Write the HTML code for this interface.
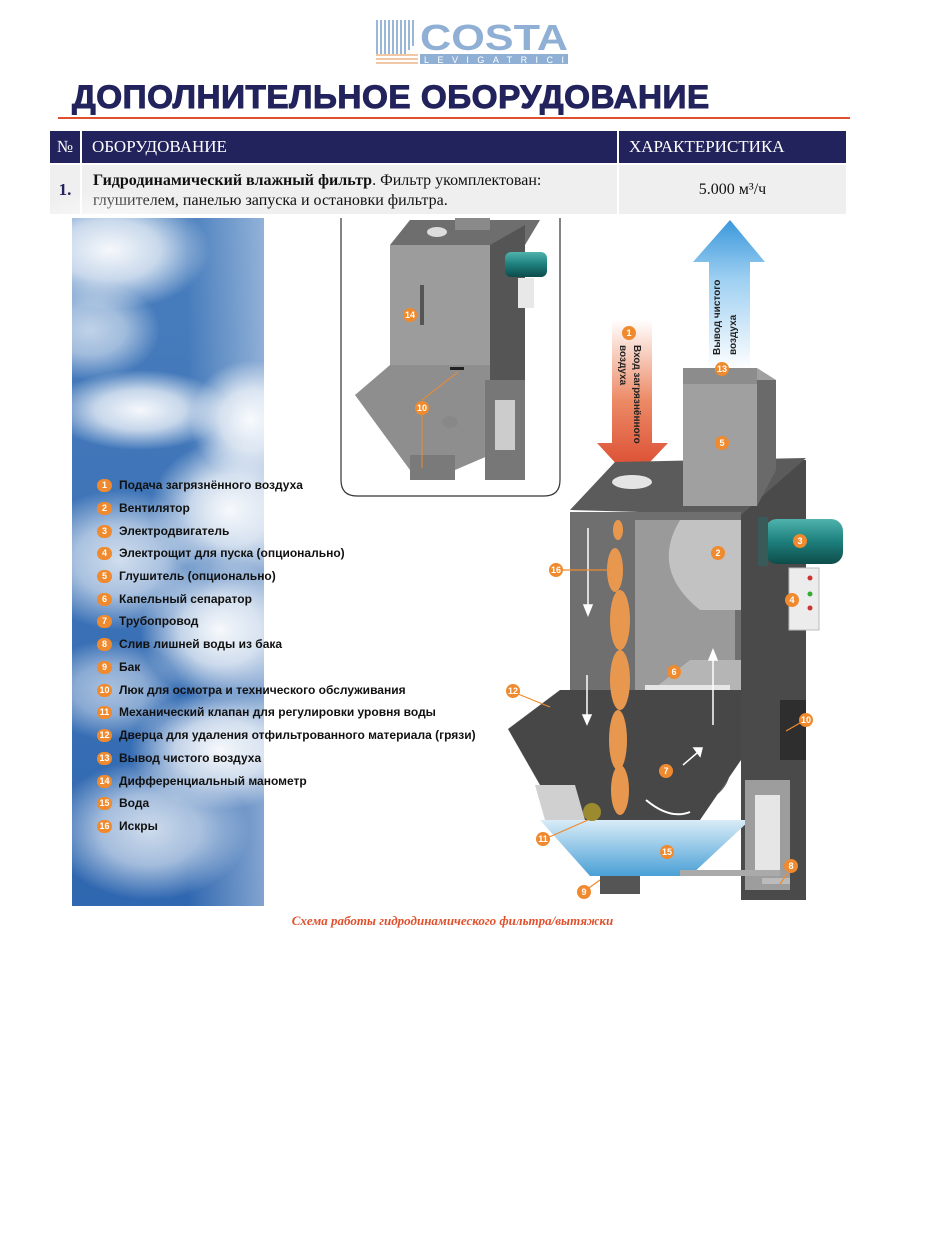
<!DOCTYPE html>
<html><head><meta charset="utf-8"><style>
body{margin:0;background:#fff;width:930px;height:1242px;position:relative;overflow:hidden;font-family:"Liberation Sans",sans-serif}
.a{position:absolute}
.leg{position:absolute;left:97px;font:bold 12px "Liberation Sans",sans-serif;color:#111;white-space:nowrap}
.leg span{display:inline-block;width:15px;height:13px;border-radius:7px;background:#ef8a2e;color:#fff;font-size:9px;text-align:center;line-height:13px;margin-right:7px;vertical-align:middle}
</style></head><body>
<!-- logo -->
<svg class="a" style="left:374px;top:18px" width="196" height="48">
 <g fill="#9ab7d8"><rect x="2" y="2" width="2" height="34"/><rect x="6" y="2" width="2" height="34"/><rect x="10" y="2" width="2" height="34"/><rect x="14" y="2" width="2" height="34"/><rect x="18" y="2" width="2" height="34"/><rect x="22" y="2" width="2" height="34"/><rect x="26" y="2" width="2" height="34"/><rect x="30" y="2" width="2" height="34"/><rect x="34" y="2" width="2" height="30"/><rect x="38" y="2" width="2" height="26"/></g>
 <g fill="#f2c7a5"><rect x="2" y="36" width="42" height="2"/><rect x="2" y="40" width="42" height="2"/><rect x="2" y="44" width="42" height="2"/></g>
 <text x="46" y="32" font-family="Liberation Sans" font-weight="bold" font-size="36" fill="#8fb0d4" textLength="148" lengthAdjust="spacingAndGlyphs">COSTA</text>
 <rect x="46" y="36" width="148" height="10" fill="#8fb0d4"/>
 <text x="50" y="45" font-family="Liberation Sans" font-size="9" fill="#fff" textLength="140" lengthAdjust="spacing">LEVIGATRICI</text>
</svg>
<div class="a" style="left:72px;top:79px;font:bold 32px 'Liberation Sans',sans-serif;color:#22235c;letter-spacing:0.5px;transform:scaleX(1.04);transform-origin:left;-webkit-text-stroke:1px #22235c">ДОПОЛНИТЕЛЬНОЕ ОБОРУДОВАНИЕ</div>
<div class="a" style="left:58px;top:117px;width:792px;height:2px;background:#e0502c"></div>
<!-- table -->
<div class="a" style="left:50px;top:131px;width:30px;height:32px;background:#22225c;color:#fff;font:17px 'Liberation Serif',serif;line-height:32px;text-align:center">№</div>
<div class="a" style="left:82px;top:131px;width:535px;height:32px;background:#22225c;color:#fff;font:17px 'Liberation Serif',serif;line-height:32px;padding-left:10px;box-sizing:border-box">ОБОРУДОВАНИЕ</div>
<div class="a" style="left:619px;top:131px;width:227px;height:32px;background:#22225c;color:#fff;font:17px 'Liberation Serif',serif;line-height:32px;padding-left:10px;box-sizing:border-box">ХАРАКТЕРИСТИКА</div>
<div class="a" style="left:50px;top:165px;width:30px;height:49px;background:#efefef;color:#22225c;font:bold 17px 'Liberation Serif',serif;line-height:49px;text-align:center">1.</div>
<div class="a" style="left:82px;top:165px;width:535px;height:49px;background:#efefef;font:16px 'Liberation Serif',serif;line-height:20px;padding:6px 0 0 11px;box-sizing:border-box;color:#111"><b>Гидродинамический влажный фильтр</b>. Фильтр укомплектован: глушителем, панелью запуска и остановки фильтра.</div>
<div class="a" style="left:619px;top:165px;width:227px;height:49px;background:#efefef;font:16px 'Liberation Serif',serif;line-height:49px;text-align:center;color:#111">5.000 м³/ч</div>

<svg class="a" style="left:0;top:0" width="930" height="1242">
 <defs>
  <linearGradient id="sky" x1="0" y1="0" x2="0" y2="1"><stop offset="0" stop-color="#4a7fbe"/><stop offset="1" stop-color="#2f67b0"/></linearGradient>
  <radialGradient id="cl"><stop offset="0" stop-color="#fff" stop-opacity="0.95"/><stop offset="0.5" stop-color="#fff" stop-opacity="0.7"/><stop offset="1" stop-color="#fff" stop-opacity="0"/></radialGradient>
  <linearGradient id="fade" x1="0" y1="0" x2="1" y2="0"><stop offset="0.6" stop-color="#fff" stop-opacity="0"/><stop offset="1" stop-color="#fff" stop-opacity="0.4"/></linearGradient>
  <linearGradient id="red" x1="0" y1="0" x2="0" y2="1"><stop offset="0" stop-color="#fff"/><stop offset="0.5" stop-color="#ec8a66"/><stop offset="1" stop-color="#d9432a"/></linearGradient>
  <linearGradient id="blue" x1="0" y1="1" x2="0" y2="0"><stop offset="0" stop-color="#fff"/><stop offset="0.6" stop-color="#9fd0f2"/><stop offset="1" stop-color="#3b98dc"/></linearGradient>
  <linearGradient id="water" x1="0" y1="0" x2="0" y2="1"><stop offset="0" stop-color="#d9ecf7"/><stop offset="1" stop-color="#4aa0d6"/></linearGradient>
  <linearGradient id="mot" x1="0" y1="0" x2="0" y2="1"><stop offset="0" stop-color="#4fb3ad"/><stop offset="0.5" stop-color="#1d7f7c"/><stop offset="1" stop-color="#0e4c4b"/></linearGradient>
 </defs>
 <!-- sky -->
 <rect x="72" y="218" width="192" height="688" fill="url(#sky)"/>
 <g>
  <ellipse cx="110" cy="250" rx="100" ry="60" fill="url(#cl)"/>
  <ellipse cx="90" cy="330" rx="70" ry="50" fill="url(#cl)" opacity="0.7"/>
  <ellipse cx="140" cy="410" rx="90" ry="40" fill="url(#cl)"/>
  <ellipse cx="250" cy="420" rx="60" ry="60" fill="url(#cl)"/>
  <ellipse cx="230" cy="510" rx="80" ry="70" fill="url(#cl)"/>
  <ellipse cx="120" cy="560" rx="90" ry="70" fill="url(#cl)" opacity="0.8"/>
  <ellipse cx="220" cy="630" rx="80" ry="70" fill="url(#cl)"/>
  <ellipse cx="110" cy="690" rx="70" ry="50" fill="url(#cl)" opacity="0.6"/>
  <ellipse cx="220" cy="750" rx="90" ry="60" fill="url(#cl)"/>
  <ellipse cx="150" cy="830" rx="100" ry="70" fill="url(#cl)" opacity="0.8"/>
 </g>
 <rect x="72" y="218" width="192" height="688" fill="url(#fade)"/>

 <!-- inset -->
 <path d="M341 218 V480 Q341 496 357 496 H544 Q560 496 560 480 V218" fill="#fff" stroke="#333" stroke-width="1.2"/>
 <polygon points="390,245 410,220 540,220 525,245" fill="#6e6e6e"/>
 <ellipse cx="437" cy="232" rx="10" ry="5" fill="#ddd"/>
 <rect x="455" y="218" width="35" height="12" fill="#8a8a8a"/>
 <rect x="390" y="245" width="100" height="120" fill="#9c9c9c"/>
 <polygon points="490,245 525,225 525,420 490,445" fill="#555"/>
 <rect x="505" y="252" width="42" height="25" rx="6" fill="url(#mot)"/>
 <rect x="518" y="278" width="16" height="30" fill="#e8e8e8"/>
 <polygon points="355,395 390,365 490,365 490,455 455,470 410,470" fill="#8e8e8e"/>
 <rect x="410" y="455" width="45" height="25" fill="#7a7a7a"/>
 <rect x="485" y="380" width="40" height="100" fill="#777"/>
 <rect x="495" y="400" width="20" height="50" fill="#ccc"/>
 <rect x="420" y="285" width="4" height="40" fill="#555"/>
 <ellipse cx="450" cy="422" rx="8" ry="6" fill="#888"/>
 <rect x="450" y="367" width="14" height="3" fill="#222"/>
 <line x1="418" y1="318" x2="408" y2="313" stroke="#ef8a2e"/><line x1="422" y1="400" x2="458" y2="372" stroke="#ef8a2e"/><line x1="422" y1="408" x2="422" y2="468" stroke="#ef8a2e"/>

 <!-- arrows -->
 <polygon points="730,220 765,262 750,262 750,370 709,370 709,262 693,262" fill="url(#blue)"/>
 <polygon points="612,320 652,320 652,443 668,443 632,481 597,443 612,443" fill="url(#red)"/>

 <!-- main machine -->
 <rect x="741" y="460" width="65" height="440" fill="#4a4a4a"/>
 <polygon points="570,510 615,462 806,458 741,515" fill="#5b5b5b"/>
 <ellipse cx="632" cy="482" rx="20" ry="7" fill="#e4e4e4"/>
 <polygon points="683,368 757,368 776,380 776,445 757,506 683,506" fill="#a0a0a0"/>
 <polygon points="757,380 776,380 776,470 757,506" fill="#6a6a6a"/>
 <rect x="683" y="368" width="74" height="16" fill="#8c8c8c"/>
 <rect x="570" y="512" width="171" height="215" fill="#6f6f6f"/>
 <rect x="635" y="520" width="100" height="200" fill="#9a9a9a"/>
 <path d="M680 520 Q650 570 700 610 H741 V520 Z" fill="#c2c2c2"/>
 <polygon points="640,700 690,660 741,660 741,720" fill="#b5b5b5"/>
 <rect x="645" y="685" width="85" height="18" fill="#e6e6e6"/>
 <ellipse cx="685" cy="770" rx="45" ry="35" fill="#5d5d5d"/>
 <rect x="780" y="700" width="26" height="60" fill="#2e2e2e"/>
 <polygon points="508,729 560,690 741,690 741,760 700,820 560,820" fill="#474747"/>
 <polygon points="540,820 750,820 690,876 590,876" fill="url(#water)"/>
 <polygon points="535,785 575,785 585,820 545,820" fill="#d0d0d0"/>
 <circle cx="592" cy="812" r="9" fill="#9c8b2e"/>
 <rect x="600" y="876" width="40" height="18" fill="#555"/>
 <rect x="745" y="780" width="45" height="110" fill="#9d9d9d"/>
 <rect x="755" y="795" width="25" height="80" fill="#e6e6e6"/>
 <rect x="680" y="870" width="100" height="6" fill="#aaa"/>
 <rect x="762" y="878" width="28" height="6" fill="#bbb"/>
 <rect x="765" y="519" width="78" height="45" rx="12" fill="url(#mot)"/>
 <rect x="758" y="517" width="10" height="49" fill="#3a5a5a"/>
 <rect x="789" y="568" width="30" height="62" fill="#ececec" stroke="#bbb"/>
 <circle cx="810" cy="578" r="2.5" fill="#c33"/><circle cx="810" cy="594" r="2.5" fill="#3a3"/><circle cx="810" cy="608" r="2.5" fill="#c33"/>
 <!-- sparks -->
 <g fill="#e8984e">
  <ellipse cx="618" cy="530" rx="5" ry="10"/><ellipse cx="615" cy="570" rx="8" ry="22"/><ellipse cx="620" cy="620" rx="10" ry="30"/>
  <ellipse cx="620" cy="680" rx="10" ry="30"/><ellipse cx="618" cy="740" rx="9" ry="30"/><ellipse cx="620" cy="790" rx="9" ry="25"/>
 </g>
 <!-- white flow arrows -->
 <g stroke="#fff" stroke-width="1.5" fill="#fff">
  <line x1="588" y1="528" x2="588" y2="605"/><polygon points="584,605 592,605 588,615"/>
  <line x1="587" y1="675" x2="587" y2="715"/><polygon points="583,715 591,715 587,724"/>
  <line x1="713" y1="725" x2="713" y2="660"/><polygon points="709,660 717,660 713,650"/>
  <line x1="683" y1="765" x2="697" y2="753"/><polygon points="694,748 702,748 700,756"/>
 </g>
 <path d="M646 800 Q670 820 690 812" stroke="#fff" stroke-width="2" fill="none"/>
 <!-- leader lines -->
 <g stroke="#ef8a2e" stroke-width="1.2">
  <line x1="562" y1="570" x2="610" y2="570"/><line x1="518" y1="694" x2="550" y2="707"/>
  <line x1="547" y1="838" x2="588" y2="820"/><line x1="586" y1="890" x2="600" y2="880"/>
  <line x1="787" y1="874" x2="780" y2="884"/><line x1="800" y1="723" x2="786" y2="731"/>
 </g>
 <!-- callouts -->
 <g font-family="Liberation Sans" font-weight="bold" font-size="9" fill="#fff" text-anchor="middle">
  <g fill="#ef8a2e">
   <circle cx="629" cy="333" r="7"/><circle cx="722" cy="369" r="7"/><circle cx="722" cy="443" r="7"/>
   <circle cx="718" cy="553" r="7"/><circle cx="800" cy="541" r="7"/><circle cx="792" cy="600" r="7"/>
   <circle cx="556" cy="570" r="7"/><circle cx="674" cy="672" r="7"/><circle cx="513" cy="691" r="7"/>
   <circle cx="806" cy="720" r="7"/><circle cx="666" cy="771" r="7"/><circle cx="543" cy="839" r="7"/>
   <circle cx="667" cy="852" r="7"/><circle cx="584" cy="892" r="7"/><circle cx="791" cy="866" r="7"/>
   <circle cx="410" cy="315" r="7"/><circle cx="422" cy="408" r="7"/>
  </g>
  <text x="629" y="336">1</text><text x="722" y="372">13</text><text x="722" y="446">5</text>
  <text x="718" y="556">2</text><text x="800" y="544">3</text><text x="792" y="603">4</text>
  <text x="556" y="573">16</text><text x="674" y="675">6</text><text x="513" y="694">12</text>
  <text x="806" y="723">10</text><text x="666" y="774">7</text><text x="543" y="842">11</text>
  <text x="667" y="855">15</text><text x="584" y="895">9</text><text x="791" y="869">8</text>
  <text x="410" y="318">14</text><text x="422" y="411">10</text>
 </g>
 <text transform="translate(634,345) rotate(90)" font-family="Liberation Sans" font-weight="bold" font-size="10" fill="#222">Вход загрязнённого</text>
 <text transform="translate(620,345) rotate(90)" font-family="Liberation Sans" font-weight="bold" font-size="10" fill="#222">воздуха</text>
 <text transform="translate(720,355) rotate(-90)" font-family="Liberation Sans" font-weight="bold" font-size="10" fill="#222">Вывод чистого</text>
 <text transform="translate(736,355) rotate(-90)" font-family="Liberation Sans" font-weight="bold" font-size="10" fill="#222">воздуха</text>
</svg>

<div class="leg" style="top:478px"><span>1</span>Подача загрязнённого воздуха</div>
<div class="leg" style="top:501px"><span>2</span>Вентилятор</div>
<div class="leg" style="top:524px"><span>3</span>Электродвигатель</div>
<div class="leg" style="top:546px"><span>4</span>Электрощит для пуска (опционально)</div>
<div class="leg" style="top:569px"><span>5</span>Глушитель (опционально)</div>
<div class="leg" style="top:592px"><span>6</span>Капельный сепаратор</div>
<div class="leg" style="top:614px"><span>7</span>Трубопровод</div>
<div class="leg" style="top:637px"><span>8</span>Слив лишней воды из бака</div>
<div class="leg" style="top:660px"><span>9</span>Бак</div>
<div class="leg" style="top:683px"><span>10</span>Люк для осмотра и технического обслуживания</div>
<div class="leg" style="top:705px"><span>11</span>Механический клапан для регулировки уровня воды</div>
<div class="leg" style="top:728px"><span>12</span>Дверца для удаления отфильтрованного материала (грязи)</div>
<div class="leg" style="top:751px"><span>13</span>Вывод чистого воздуха</div>
<div class="leg" style="top:774px"><span>14</span>Дифференциальный манометр</div>
<div class="leg" style="top:796px"><span>15</span>Вода</div>
<div class="leg" style="top:819px"><span>16</span>Искры</div>

<div class="a" style="left:0;width:905px;top:913px;text-align:center;font:italic bold 13px 'Liberation Serif',serif;color:#e0502c">Схема работы гидродинамического фильтра/вытяжки</div>
</body></html>
